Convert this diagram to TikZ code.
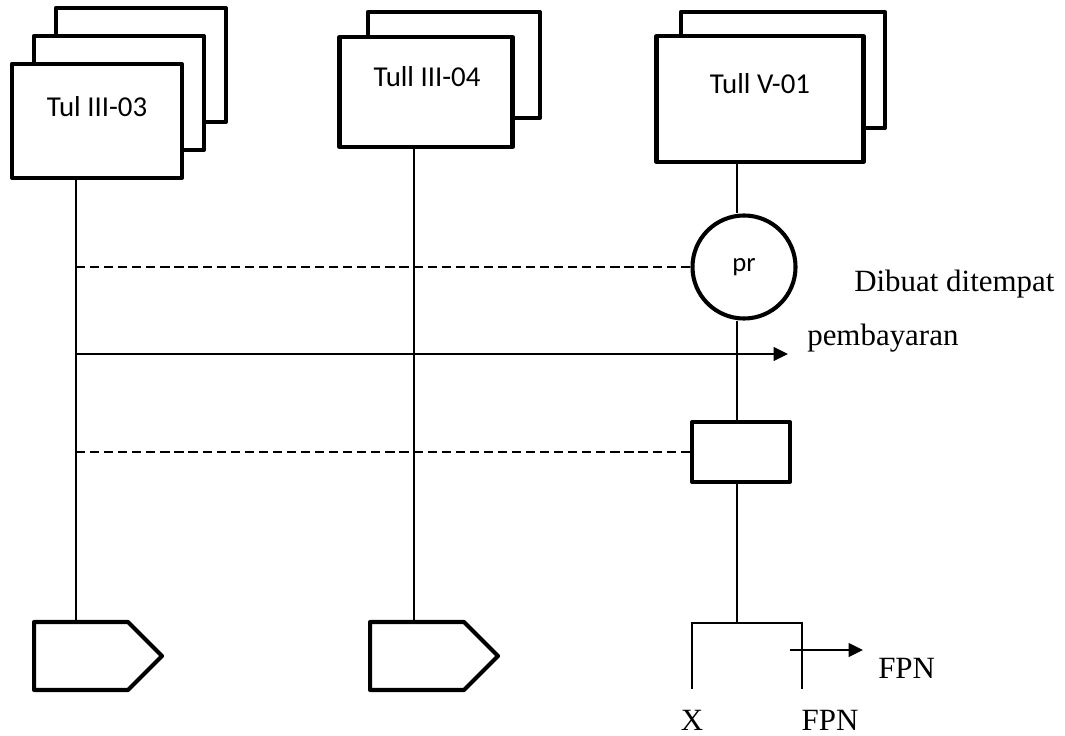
\documentclass[tikz,border=0pt]{standalone}
\usepackage{fontspec}
\setmainfont{Liberation Serif}
\newfontfamily\calibri{Carlito}
\usetikzlibrary{arrows.meta, positioning, calc, shapes.symbols}

\begin{document}
\begin{tikzpicture}[
x=0.025cm, y=-0.025cm,
box/.style={draw, line width=2.9pt, line join=round, fill=white, inner sep=0pt},
doc/.style={box, signal, signal to=east, signal pointer angle=90, minimum width=3.2cm, minimum height=1.7cm, anchor=west},
lbl/.style={inner sep=0pt, font=\calibri\fontsize{20.5}{24}\selectfont},
txt/.style={inner sep=0pt, font=\fontsize{22}{26}\selectfont},
life/.style={line width=1.4pt},
link/.style={line width=1pt, dash pattern=on 6.5pt off 3.5pt},
arrow/.style={-{Triangle[length=0.36cm, width=0.34cm]}, line width=1.4pt}
]
\useasboundingbox (0,0) rectangle (1065,736);

% stacked documents
\node[box, minimum width=4.25cm, minimum height=2.85cm] (t03c) at (141,65) {};
\node[box, minimum width=4.25cm, minimum height=2.85cm] (t03b) at (119,93) {};
\node[box, minimum width=4.25cm, minimum height=2.85cm] (t03) at (97,121) {};
\node[lbl] (t03txt) at (97,107) {Tul III-03};

\node[box, minimum width=4.3cm, minimum height=2.65cm] (t04b) at (454,65) {};
\node[box, minimum width=4.325cm, minimum height=2.75cm] (t04) at (426,92) {};
\node[lbl] (t04txt) at (427,77) {Tull III-04};

\node[box, minimum width=5.1cm, minimum height=2.9cm] (v01b) at (783,70) {};
\node[box, minimum width=5.175cm, minimum height=3.15cm] (v01) at (760,99) {};
\node[lbl] (v01txt) at (760,84) {Tull V-01};

% lifelines
\coordinate (l03) at ($(t03.south)+(-21,0)$);
\coordinate (l04) at ($(t04.south)+(-12,0)$);
\coordinate (l01) at ($(v01.south)+(-23,0)$);

\node[box, circle, minimum size=2.575cm, font=\calibri\fontsize{19}{23}\selectfont] (pr) at (744,267) {pr};
\node[box, minimum width=2.45cm, minimum height=1.5cm] (kw) at (741,452) {};

\node[doc] (p03) at (32,656) {};
\node[doc] (p04) at (368,656) {};

\draw[life] (l03) -- (l03 |- p03.north);
\draw[life] (l04) -- (l04 |- p04.north);
\draw[life] (l01) -- (l01 |- pr.north);
\draw[life] (l01 |- pr.south) -- (l01 |- kw.north);

\draw[link] (l03 |- pr.west) -- (pr.west);
\draw[link] (l03 |- kw.west) -- (kw.west);

\coordinate (pay) at (788,354);
\draw[arrow] (l03 |- pay) -- (pay);

% split at the bottom
\coordinate (fl) at (692,623);
\coordinate (fr) at (802,623);
\draw[life] (l01 |- kw.south) -- (l01 |- fl);
\draw[life] ($(fl)+(0,66)$) -- (fl) -- (fr) -- ($(fr)+(0,66)$);
\coordinate (fa) at (790,650);
\draw[arrow] (fa) -- ($(fa)+(73,0)$);

\node[txt, anchor=west] (dibuat) at (854,284) {Dibuat ditempat};
\node[txt, anchor=west] (bayar) at (807,338) {pembayaran};
\node[txt, anchor=west] (fpn1) at (878,668) {FPN};
\node[txt] (xlbl) at (692,720) {X};
\node[txt] (fpn2) at (830,720) {FPN};
\end{tikzpicture}
\end{document}
